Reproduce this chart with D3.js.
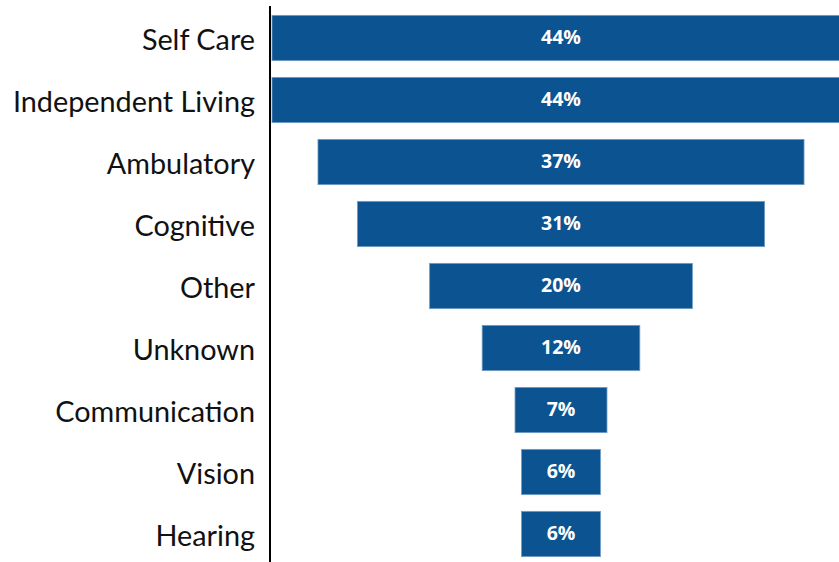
<!DOCTYPE html>
<html>
<head>
<script src="https://cdnjs.cloudflare.com/ajax/libs/d3/7.8.5/d3.min.js"></script>
<style type='text/css'>
  body { margin: 0; background: #fff; }
  svg text.cat { font-family: Lato, 'Noto Sans', sans-serif; font-size: 28.8px; fill: #111; }
  svg text.val { font-family: 'Open Sans', 'Noto Sans', sans-serif; font-size: 19.5px; font-weight: bold; fill: #fff; }
</style>
</head>
<body>
<div id='chart'></div>
<script type='text/javascript'>
  var categories = ['Self Care', 'Independent Living', 'Ambulatory', 'Cognitive', 'Other',
                    'Unknown', 'Communication', 'Vision', 'Hearing'];
  var values = [44, 44, 37, 31, 20, 12, 7, 6, 6];
  var valueLabels = ['44%', '44%', '37%', '31%', '20%', '12%', '7%', '6%', '6%'];

  var W = 839, H = 562;
  var axisX = 270, centerX = 561;

  var svg = d3.select('#chart').append('svg')
    .attr('width', W)
    .attr('height', H);

  var y = d3.scaleBand()
    .domain(categories)
    .range([7, 565])
    .paddingInner(0.27)
    .paddingOuter(0.135);

  // bar width is proportional to value, centred on one line (funnel)
  var w = d3.scaleLinear().domain([0, 44]).range([0, 578]);

  var rows = categories.map(function(c, i) {
    return { cat: c, v: values[i], lab: valueLabels[i] };
  });

  var g = svg.append('g');

  g.selectAll('rect.bar')
    .data(rows)
    .enter().append('rect')
      .attr('class', 'bar')
      .attr('x', function(d) { return centerX - w(d.v) / 2; })
      .attr('y', function(d) { return y(d.cat); })
      .attr('width', function(d) { return w(d.v); })
      .attr('height', y.bandwidth())
      .attr('fill', '#0b5391')
      .attr('stroke', '#6f9ac4')
      .attr('stroke-width', 0.8);

  g.selectAll('text.val')
    .data(rows)
    .enter().append('text')
      .attr('class', 'val')
      .attr('x', centerX)
      .attr('y', function(d) { return y(d.cat) + y.bandwidth() / 2; })
      .attr('dy', '0.3em')
      .attr('text-anchor', 'middle')
      .text(function(d) { return d.lab; });

  g.selectAll('text.cat')
    .data(rows)
    .enter().append('text')
      .attr('class', 'cat')
      .attr('x', axisX - 15)
      .attr('y', function(d) { return y(d.cat) + y.bandwidth() / 2 + 2; })
      .attr('dy', '0.35em')
      .attr('text-anchor', 'end')
      .text(function(d) { return d.cat; });

  svg.append('line')
    .attr('x1', axisX).attr('x2', axisX)
    .attr('y1', 6).attr('y2', H)
    .attr('stroke', '#000')
    .attr('stroke-width', 2);
</script>
</body>
</html>
